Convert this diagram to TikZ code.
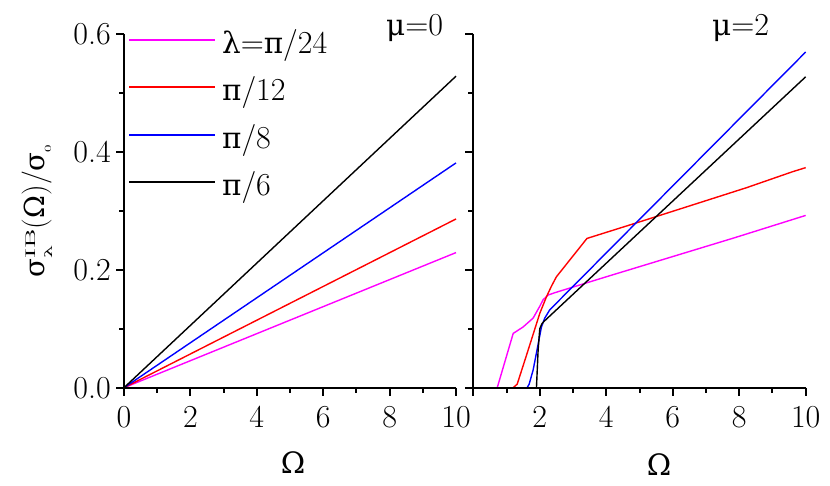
\documentclass[tikz,border=0pt]{standalone}
\usepackage{fontspec}
\newfontfamily\grk{DejaVu Serif}[Scale=0.92]
\usepackage{graphicx}
\definecolor{mag}{RGB}{255,0,255}
\definecolor{rd}{RGB}{255,0,0}
\definecolor{bl}{RGB}{0,0,255}
\newcommand\G[1]{{\grk #1}}
\newcommand\sscript[3]{\scalebox{#3}[1]{\fontsize{#2}{#2}\selectfont #1}}
\tikzset{
  ax/.style={line width=2pt},
  crv/.style={line width=1.4pt, line join=round},
  tl/.style={font=\fontsize{32}{36}\selectfont, inner sep=0pt},
}
\begin{document}
\begin{tikzpicture}[x=1pt,y=-1pt]
\useasboundingbox (0,0) rectangle (830,485);
% ---------- left panel ----------
\begin{scope}[shift={(124,387.7)}, x=33.2pt, y=590pt]
  \draw[crv, mag] (0,0) -- (10,0.229);
  \draw[crv, rd]  (0,0) -- (10,0.286);
  \draw[crv, bl]  (0,0) -- (10,0.381);
  \draw[crv, black] (0,0) -- (10,0.528);
  \draw[ax] (0,0.6) -- (0,0) -- (10,0);
  \foreach \v in {0,0.2,0.4,0.6} \draw[ax] (0,\v) -- ++(-8pt,0);
  \foreach \v in {0.1,0.3,0.5} \draw[ax] (0,\v) -- ++(-5pt,0);
  \foreach \u in {0,2,...,10} \draw[ax] (\u,0) -- ++(0,-8pt);
  \foreach \u in {1,3,...,9} \draw[ax] (\u,0) -- ++(0,-5pt);
  \foreach \v/\t in {0/0.0,0.2/0.2,0.4/0.4,0.6/0.6}
    \node[tl, anchor=east, xshift=-13pt] (yl\t) at (0,\v) {\t};
  \foreach \u in {0,2,...,10}
    \node[tl, yshift=-29pt] (xl\u) at (\u,0) {\u};
\end{scope}
% ---------- right panel ----------
\begin{scope}[shift={(473.3,387.7)}, x=33.24pt, y=590pt]
  \draw[crv, mag] (0,0) -- (0.72,0) -- (1.2,0.092) -- (1.5,0.103) -- (1.8,0.118)
     -- (2.0,0.138) -- (2.1,0.149) -- (2.25,0.157) -- (2.45,0.161) -- (4,0.188)
     -- (7.85,0.254) -- (10,0.292);
  \draw[crv, rd] (0,0) -- (1.2,0) -- (1.32,0.006) -- (1.6,0.055) -- (2.0,0.126)
     -- (2.2,0.154) -- (2.35,0.172) -- (2.5,0.188) -- (3.42,0.253) -- (5,0.281)
     -- (8.22,0.339) -- (9.6,0.366) -- (10,0.373);
  \draw[crv, bl] (0,0) -- (1.62,0) -- (1.68,0.006) -- (1.8,0.03) -- (1.9,0.059)
     -- (2.05,0.103) -- (2.15,0.118) -- (2.3,0.132) -- (10,0.569);
  \draw[crv, black] (0,0) -- (1.9,0) -- (1.95,0.064) -- (2.0,0.1) -- (2.06,0.108)
     -- (2.12,0.112) -- (10,0.527);
  \draw[ax] (0,0.6) -- (0,0) -- (10,0);
  \foreach \v in {0,0.2,0.4,0.6} \draw[ax] (0,\v) -- ++(-8pt,0);
  \foreach \v in {0.1,0.3,0.5} \draw[ax] (0,\v) -- ++(-5pt,0);
  \foreach \u in {0,2,...,10} \draw[ax] (\u,0) -- ++(0,-8pt);
  \foreach \u in {1,3,...,9} \draw[ax] (\u,0) -- ++(0,-5pt);
  \foreach \u in {2,4,...,10}
    \node[tl, yshift=-29pt] (xr\u) at (\u,0) {\u};
\end{scope}
% ---------- legend ----------
\draw[crv, mag]   (129,40)  -- (215,40);
\draw[crv, rd]    (129,87)  -- (215,87);
\draw[crv, bl]    (129,135) -- (215,135);
\draw[crv, black] (129,182) -- (215,182);
\node[tl, anchor=base west] (l1) at (222,53.5)  {\G{λ}=\G{π}/24};
\node[tl, anchor=base west] (l2) at (222,100.5) {\G{π}/12};
\node[tl, anchor=base west] (l3) at (222,148.5) {\G{π}/8};
\node[tl, anchor=base west] (l4) at (222,195.5) {\G{π}/6};
% ---------- panel labels ----------
\node[tl, anchor=base west] (mu0) at (386,35) {\G{μ}=0};
\node[tl, anchor=base west] (mu2) at (712,35) {\G{μ}=2};
\node[tl] (omL) at (293,462.5) {\G{Ω}};
\node[tl] (omR) at (659,465) {\G{Ω}};
\node[rotate=90, anchor=base, inner sep=0pt, font=\fontsize{30}{30}\selectfont] (ylab) at (44,211)
  {\G{σ}\rlap{\raisebox{-0.3em}{\sscript{\G{λ}}{11}{2}}}\raisebox{0.3em}{\sscript{IB}{14}{2}}(\G{Ω})/\G{σ}\raisebox{-0.23em}{\sscript{0}{9}{1.6}}};
\end{tikzpicture}
\end{document}
